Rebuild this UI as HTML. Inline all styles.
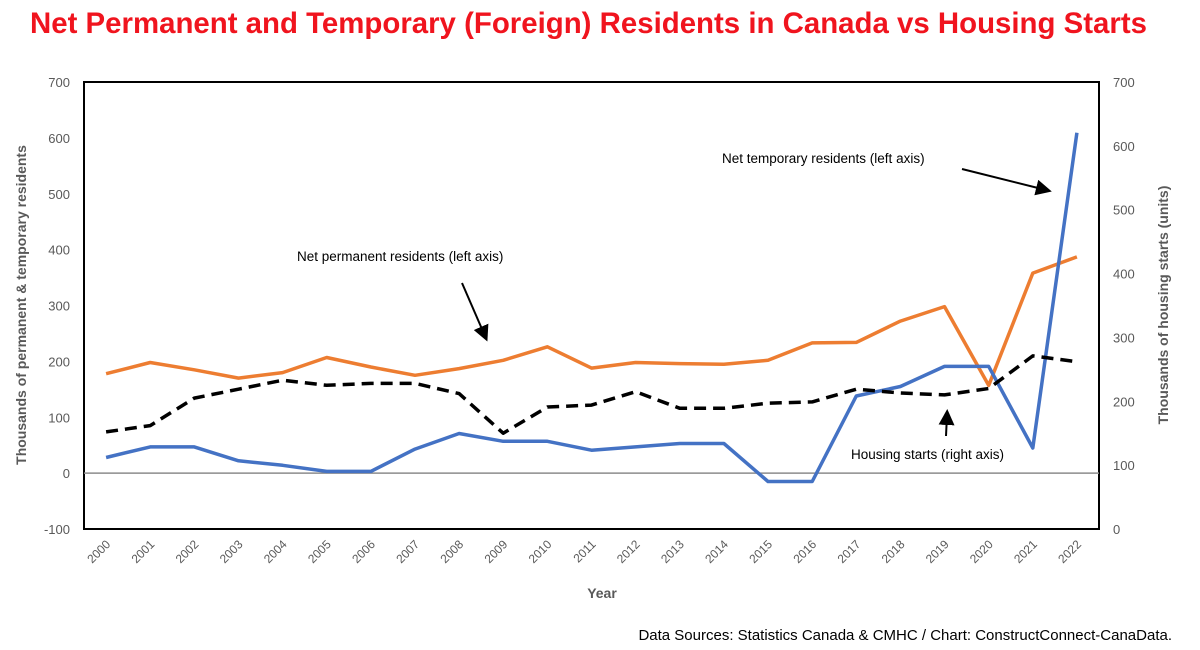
<!DOCTYPE html>
<html><head><meta charset="utf-8"><style>
body{margin:0;background:#fff;width:1200px;height:645px;overflow:hidden;font-family:"Liberation Sans",sans-serif}
</style></head><body>
<svg id="chart" width="1200" height="645" xmlns="http://www.w3.org/2000/svg" font-family="Liberation Sans, sans-serif">
<text x="30" y="33" textLength="1117" lengthAdjust="spacingAndGlyphs" font-size="30" font-weight="bold" fill="#f0141e">Net Permanent and Temporary (Foreign) Residents in Canada vs Housing Starts</text>
<rect x="84" y="82" width="1015" height="447" fill="none" stroke="#000" stroke-width="2"/>
<g id="axes"></g>
<g id="series"></g>
<text transform="translate(26,305) rotate(-90)" text-anchor="middle" font-size="14" font-weight="bold" fill="#595959">Thousands of permanent &amp; temporary residents</text>
<text transform="translate(1168,305) rotate(-90)" text-anchor="middle" font-size="14" font-weight="bold" fill="#595959">Thousands of housing starts (units)</text>
<text x="602" y="598" text-anchor="middle" font-size="14" font-weight="bold" fill="#595959">Year</text>
<text x="1172" y="640" text-anchor="end" font-size="15" fill="#000">Data Sources: Statistics Canada &amp; CMHC / Chart: ConstructConnect-CanaData.</text>
<text x="722" y="163" font-size="13.5" fill="#000">Net temporary residents (left axis)</text>
<line x1="962" y1="169" x2="1046" y2="190" stroke="#000" stroke-width="2" marker-end="url(#ah)"/>
<text x="297" y="261" font-size="13.5" fill="#000">Net permanent residents (left axis)</text>
<line x1="462" y1="283" x2="485" y2="336" stroke="#000" stroke-width="2" marker-end="url(#ah)"/>
<text x="851" y="459" font-size="13.5" fill="#000">Housing starts (right axis)</text>
<line x1="946" y1="436" x2="947" y2="415" stroke="#000" stroke-width="2" marker-end="url(#ah)"/>
<defs><marker id="ah" markerWidth="8" markerHeight="8" refX="5" refY="4" orient="auto"><path d="M0,0 L8,4 L0,8 z" fill="#000"/></marker></defs>
</svg>
<script>
const years=["2000","2001","2002","2003","2004","2005","2006","2007","2008","2009","2010","2011","2012","2013","2014","2015","2016","2017","2018","2019","2020","2021","2022"];
const permanent=[178,198,185,170,180,207,190,175,187,202,226,188,198,196,195,202,233,234,272,298,157,358,387];
const temporary=[28,47,47,22,14,3,3,43,71,57,57,41,47,53,53,-15,-15,138,155,191,191,45,609];
const housing=[152,162,205,219,233,225,228,228,212,150,191,194,215,189,189,197,199,219,213,210,220,271,262];
const leftTicks=[-100,0,100,200,300,400,500,600,700];
const rightTicks=[0,100,200,300,400,500,600,700];
const NS="http://www.w3.org/2000/svg";
const X0=84,W=1015,TOP=82,BOT=529;
const x=i=>X0+(i+0.5)*W/years.length;
const yL=v=>BOT-(v+100)*(BOT-TOP)/800;
const yR=v=>BOT-v*(BOT-TOP)/700;
const axes=document.getElementById('axes'),ser=document.getElementById('series');
function mk(tag,attrs,parent,txt){const e=document.createElementNS(NS,tag);for(const k in attrs)e.setAttribute(k,attrs[k]);if(txt!==undefined)e.textContent=txt;parent.appendChild(e);return e;}
leftTicks.forEach(t=>{const e=mk('text',{x:70,y:yL(t)+5,'text-anchor':'end','font-size':13,fill:'#595959'},axes,String(t));

});
rightTicks.forEach(t=>{const e=mk('text',{x:1113,y:yR(t)+5,'font-size':13,fill:'#595959'},axes,String(t));

});
years.forEach((yr,i)=>{const e=mk('text',{transform:`translate(${x(i)+5},${545}) rotate(-45)`,'text-anchor':'end','font-size':12,fill:'#595959'},axes,yr);

});
const zl=mk('line',{x1:X0,x2:X0+W,y1:yL(0),y2:yL(0),stroke:'#8c8c8c','stroke-width':1.5},axes);


function line(vals,fy,color,dash,name){const d=vals.map((v,i)=>(i?'L':'M')+x(i).toFixed(1)+','+fy(v).toFixed(1)).join(' ');
const p=mk('path',{d,fill:'none',stroke:color,'stroke-width':3.5,'stroke-linejoin':'round'},ser);
if(dash)p.setAttribute('stroke-dasharray',dash);

}
line(permanent,yL,'#ed7d31',null,'permanent-residents-line');
line(temporary,yL,'#4472c4',null,'temporary-residents-line');
line(housing,yR,'#000',"12,7",'housing-starts-line');
</script>
</body></html>
